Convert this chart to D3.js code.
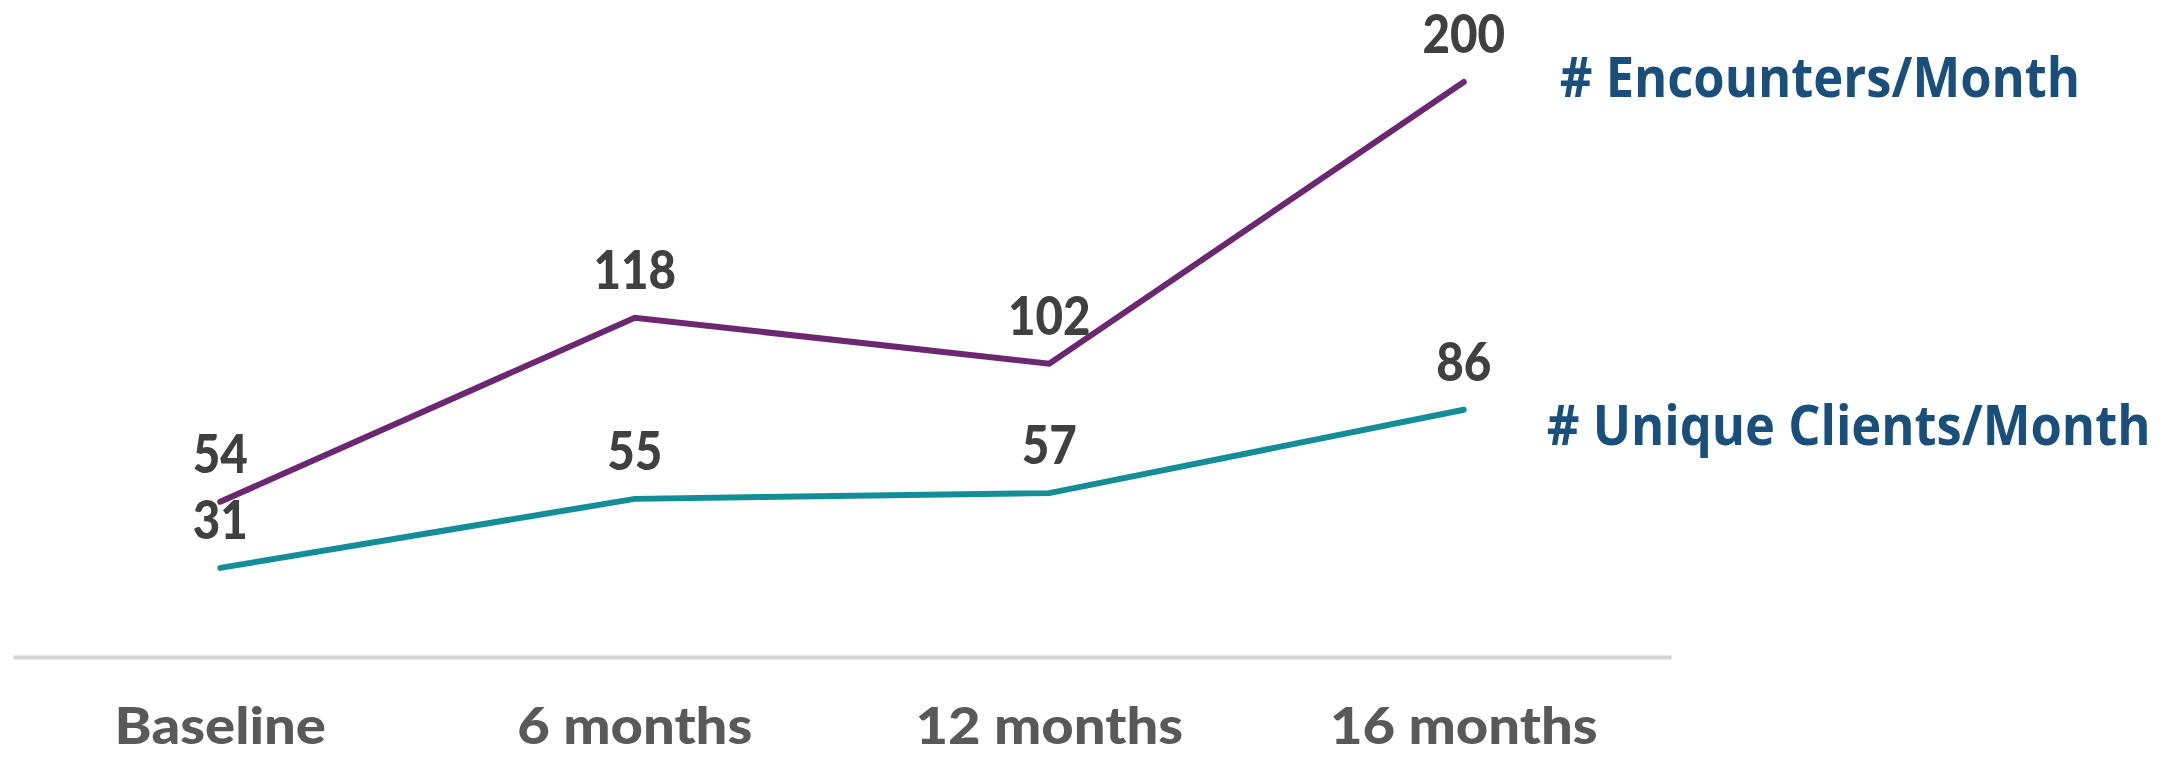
<!DOCTYPE html>
<html>
<head>
<meta charset="utf-8">
<script src="https://cdn.jsdelivr.net/npm/d3@7"></script>
<style>
  html, body { margin: 0; padding: 0; background: #fff; }
  svg { display: block; }
</style>
</head>
<body>
<script>
// data
const periods = ["Baseline", "6 months", "12 months", "16 months"];
const encounters = [54, 118, 102, 200];
const uniqueClients = [31, 55, 57, 86];
const seriesNames = ["# Encounters/Month", "# Unique Clients/Month"];

const width = 2177, height = 758;

let svg = d3.select("body")
    .append("svg")
        .attr("width", width)
        .attr("height", height);

let xScale = d3.scaleBand()
    .domain(periods)
    .range([13, 1671]);

let yScale = d3.scaleLinear()
    .domain([0, 200])
    .range([657, 82]);

const cx = p => xScale(p) + xScale.bandwidth() / 2;

// stretch/squeeze text by a width factor (the original font differs)
function squeeze(sel, factor) {
    sel.each(function() {
        let w = this.getComputedTextLength();
        d3.select(this)
            .attr("textLength", w * factor)
            .attr("lengthAdjust", "spacingAndGlyphs");
    });
}

// x axis: baseline rule plus category labels
let xAxis = d3.axisBottom(xScale)
    .tickSize(0)
    .tickPadding(50);

let gx = svg.append("g")
    .attr("class", "xAxis")
    .attr("transform", `translate(0, ${yScale(0)})`)
    .call(xAxis);

gx.select(".domain")
    .attr("stroke", "#d4d4d4")
    .attr("stroke-width", 4);

gx.selectAll("text")
    .attr("fill", "#595959")
    .attr("dy", "0.71em")
    .style("font-family", "Lato, 'Open Sans', sans-serif")
    .style("font-weight", 900)
    .style("font-size", "52px")
    .call(squeeze, 1.08);

let series = [
    { name: seriesNames[0], values: encounters, color: "#6b2870", dx: 96, dy: 15 },
    { name: seriesNames[1], values: uniqueClients, color: "#138d96", dx: 83, dy: 35 },
];

let line = d3.line()
    .x((d, i) => cx(periods[i]))
    .y(d => yScale(d));

series.forEach(s => {
    svg.append("path")
        .datum(s.values)
        .attr("fill", "none")
        .attr("stroke", s.color)
        .attr("stroke-width", 6)
        .attr("stroke-linecap", "round")
        .attr("stroke-linejoin", "miter")
        .attr("d", line);

    svg.append("g")
        .selectAll("text")
        .data(s.values)
        .enter()
            .append("text")
            .attr("x", (d, i) => cx(periods[i]))
            .attr("y", d => yScale(d) - 29)
            .attr("text-anchor", "middle")
            .attr("fill", "#404040")
            .style("font-family", "Lato, 'Open Sans', sans-serif")
            .style("font-weight", 900)
            .style("font-size", "54px")
            .text(d => d)
            .call(squeeze, 0.88);

    // series name next to the line end, narrowed with a transform
    let last = s.values.length - 1;
    svg.append("text")
        .attr("transform", `translate(${cx(periods[last]) + s.dx}, ${yScale(s.values[last]) + s.dy}) scale(0.905, 1)`)
        .attr("fill", "#1a4f7b")
        .style("font-family", "'Open Sans', sans-serif")
        .style("font-weight", "bold")
        .style("font-size", "56px")
        .text(s.name);
});
</script>
</body>
</html>
